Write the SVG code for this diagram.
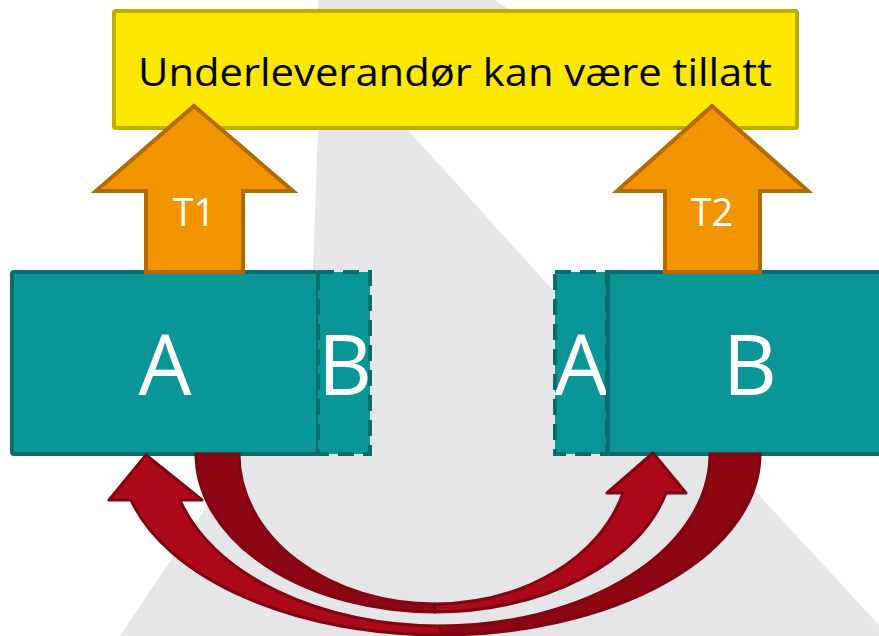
<svg xmlns="http://www.w3.org/2000/svg" width="879" height="636" viewBox="0 0 879 636">
  <style>
    .bg { fill: #e6e6e8; }
    .yellow { fill: #fce800; stroke: #bcad00; stroke-width: 4; }
    .teal { fill: #0a9696; stroke: #0a6c6c; stroke-width: 4; }
    .teal-dash { fill: #0a9696; stroke: #0a6c6c; stroke-width: 4; stroke-dasharray: 16 9; }
    .orange { fill: #f29400; stroke: #b36a00; stroke-width: 4; stroke-linejoin: miter; }
    .red-light { fill: #ad0a19; stroke: #7f0510; stroke-width: 3; stroke-linejoin: round; }
    .red-dark { fill: #8c0613; stroke: #7f0510; stroke-width: 3; stroke-linejoin: round; }
    .big { font-family: "Open Sans", "Liberation Sans", sans-serif; font-size: 84px; fill: #ffffff; text-anchor: middle; }
    .tlabel { font-family: "Open Sans", "Liberation Sans", sans-serif; font-size: 38px; fill: #ffffff; text-anchor: middle; }
    .title { font-family: "Open Sans", "Liberation Sans", sans-serif; font-size: 38px; fill: #000000; text-anchor: middle; }
  </style>

  <g id="background">
    <path class="bg" d="M318,0 L495,0 L512,12 L408,130 L550,287 L757,493 L879,625 L879,636 L120,636 L240,457 L300,320 L313,270 L318,130 Z"/>
  </g>

  <g id="node-underleverandor">
    <rect class="yellow" x="114" y="11" width="683" height="117" rx="2"/>
    <text class="title" x="455" y="86" textLength="634" lengthAdjust="spacingAndGlyphs">Underleverandør kan være tillatt</text>
  </g>

  <g id="node-left-A">
    <rect class="teal" x="12" y="272" width="306" height="182" rx="2"/>
    <text class="big" x="165" y="395">A</text>
  </g>
  <g id="node-left-B">
    <rect class="teal-dash" x="318" y="272" width="52" height="182"/>
    <text class="big" x="345" y="395">B</text>
  </g>
  <g id="node-right-A">
    <rect class="teal-dash" x="555" y="272" width="52" height="182"/>
    <text class="big" x="581" y="395">A</text>
  </g>
  <g id="node-right-B">
    <rect class="teal" x="608" y="272" width="290" height="182" rx="2"/>
    <text class="big" x="750" y="395">B</text>
  </g>

  <g id="connectors">
    <g id="arrow-T1">
      <path class="orange" d="M194,106 L293,191 L243,191 L243,272 L146,272 L146,191 L96,191 Z"/>
      <text class="tlabel" x="194" y="226">T1</text>
    </g>
    <g id="arrow-T2">
      <path class="orange" d="M712,106 L808,191 L760,191 L760,272 L665,272 L665,191 L617,191 Z"/>
      <text class="tlabel" x="712" y="226">T2</text>
    </g>
    <g id="curve-A-to-right">
      <path class="red-dark" d="M196,454 A239,158 0 0 0 435,612 L435,604 A196,150 0 0 1 239,454 Z"/>
      <path class="red-light" d="M435,612 A239,158 0 0 0 666,493 L686,493 L653,453 L607,493 L623,493 A196,150 0 0 1 435,604 Z"/>
    </g>
    <g id="curve-B-to-left">
      <path class="red-dark" d="M760,454 A320,181 0 0 1 440,635 L440,626 A270,172 0 0 0 710,454 Z"/>
      <path class="red-light" d="M440,635 A320,181 0 0 1 131,500 L109,500 L146,455 L202,500 L180,500 A270,172 0 0 0 440,626 Z"/>
    </g>
  </g>
</svg>
